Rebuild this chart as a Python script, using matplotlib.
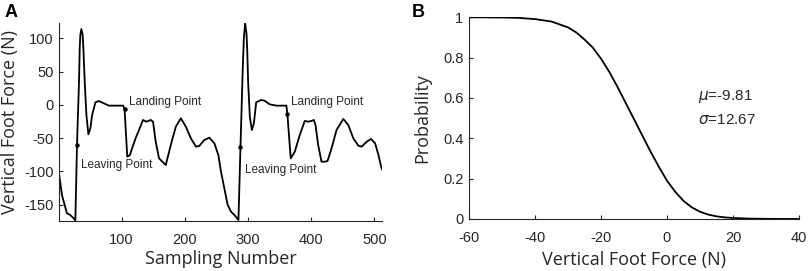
import matplotlib
matplotlib.use("Agg")
import matplotlib.pyplot as plt

plt.rcParams['font.family'] = ['Liberation Sans', 'DejaVu Sans']
plt.rcParams['mathtext.fontset'] = 'dejavusans'
plt.rcParams['axes.unicode_minus'] = False

# ---- Panel A data ----
sample_x = [1, 5.7, 13.6, 18.9, 24.2, 26.9, 29.5, 32.7, 33.8, 34.8, 36.4,
            38.5, 39.6, 41.7, 44.4, 47.5, 50.7, 53.4, 58.7, 64.0, 71.9, 79.9,
            93.1, 102.6, 104.8, 109.0, 113.2, 117.0, 122.3, 127.6, 133.9, 139.2,
            146.1, 149.8, 154.0, 159.3, 164.6, 169.9, 177.9, 185.8, 193.8, 201.7,
            209.7, 217.6, 222.9, 230.9, 238.8, 246.8, 253.1, 257.3, 262.6, 267.9,
            273.2, 278.5, 282.8, 284.9, 288.1, 291.8, 292.9, 293.4, 295.5, 297.6,
            298.7, 300.3, 302.9, 306.1, 309.3, 313.0, 320.9, 326.2, 334.2, 344.8,
            360.7, 362.3, 367.6, 374.0, 381.9, 389.8, 395.1, 400.4, 404.1, 406.8,
            411.0, 416.3, 421.6, 425.8, 432.2, 440.1, 450.7, 458.7, 466.6, 474.6,
            479.9, 487.8, 494.7, 501.1, 506.4, 510.6, 512]
force_y = [-102.9, -135.5, -163.0, -165.5, -170.5, -174.0, -60.3, 34.9, 85, 105, 114,
           105, 85, 34.9, -15.2, -44.3, -35.3, -15.2, 3.8, 5.8, 2.3, -1.2,
           -1.2, -1.2, -6.7, -77.9, -75.4, -64.3, -50, -37.8, -22.7, -25.3,
           -22.7, -25.3, -55.3, -80.4, -85.4, -90.4, -60.3, -32.8, -20.2, -32.8,
           -50.3, -62.8, -61.8, -52.8, -49.3, -57.8, -75.4, -100.4, -125.5, -150.5,
           -160.5, -165.5, -170.5, -173.0, -63.8, 57.4, 85, 100, 122.5, 107.5,
           85, 32.4, -17.7, -37.8, -27.8, 3.8, 7.3, 6.3, 0.8, -1.2,
           -1.2, -13.7, -80.4, -70.3, -45.3, -24.2, -25.3, -24.2, -22.7, -30.3,
           -60.3, -85.4, -85.4, -84.4, -65.3, -37.8, -21.2, -30.3, -50.3, -61.3,
           -62.8, -55.3, -51.3, -57.8, -75.4, -92.9, -97]

leaving_x = [29.5, 288.1]
leaving_y = [-60.3, -63.8]
landing_x = [104.8, 362.3]
landing_y = [-6.7, -13.7]

a_xticks = [100, 200, 300, 400, 500]
a_yticks = [-150, -100, -50, 0, 50, 100]

# ---- Panel B data ----
force_b = [-60, -50, -45, -40, -35, -30, -27.5, -25, -22.5, -20,
           -17.5, -15, -12.5, -10, -7.5, -5, -2.5, 0, 2.5, 5,
           7.5, 10, 12.5, 15, 17.5, 20, 25, 30, 35, 40]
prob_b = [1.0, 0.999, 0.997, 0.991, 0.979, 0.950, 0.925, 0.890, 0.850, 0.795,
          0.730, 0.655, 0.575, 0.495, 0.415, 0.335, 0.260, 0.190, 0.135, 0.090,
          0.058, 0.036, 0.022, 0.013, 0.008, 0.005, 0.002, 0.0007, 0.0002, 0.0001]
b_xticks = [-60, -40, -20, 0, 20, 40]
b_yticks = [0, 0.2, 0.4, 0.6, 0.8, 1]
b_yticklabels = ['0', '0.2', '0.4', '0.6', '0.8', '1']

TXT = '#262626'
LABEL_FONT = ['Open Sans', 'DejaVu Sans']

fig = plt.figure(figsize=(8.09, 2.71), dpi=100)
axA = fig.add_axes([0.0729, 0.1845, 0.3993, 0.7295])
axB = fig.add_axes([0.5797, 0.1919, 0.4079, 0.7443])

for ax in (axA, axB):
    for s in ('top', 'right'):
        ax.spines[s].set_visible(False)
    for s in ('left', 'bottom'):
        ax.spines[s].set_color(TXT)
        ax.spines[s].set_linewidth(0.8)
    ax.tick_params(direction='in', length=3, width=0.8, colors=TXT,
                   labelsize=10.5)
    ax.tick_params(axis='y', pad=4)

axA.tick_params(axis='x', pad=8.5)
axB.tick_params(axis='x', pad=9)

# Panel A
axA.plot(sample_x, force_y, color='black', lw=1.3)
axA.plot(leaving_x, leaving_y, 'o', color='black', ms=2.2)
axA.plot(landing_x, landing_y, 'o', color='black', ms=2.2)
axA.set_xlim(1, 512)
axA.set_ylim(-174.5, 122.5)
axA.set_xticks(a_xticks)
axA.set_yticks(a_yticks)
axA.set_xlabel('Sampling Number', fontsize=13, color=TXT, family=LABEL_FONT)
axA.set_ylabel('Vertical Foot Force (N)', fontsize=13, color=TXT, family=LABEL_FONT)
axA.xaxis.label.set_va('center')
axA.yaxis.label.set_va('center')
axA.xaxis.set_label_coords(0.5, -0.192)
axA.yaxis.set_label_coords(-0.152, 0.5)
for lx in landing_x:
    axA.text(lx + 6.5, 4.5, 'Landing Point', fontsize=8.5, color=TXT, va='center')
for lx, ty in zip(leaving_x, [-91, -98]):
    axA.text(lx + 7, ty, 'Leaving Point', fontsize=8.5, color=TXT, va='center')

# Panel B
axB.plot(force_b, prob_b, color='black', lw=1.3)
axB.set_xlim(-60, 40)
axB.set_ylim(0, 1)
axB.set_xticks(b_xticks)
axB.set_yticks(b_yticks)
axB.set_yticklabels(b_yticklabels)
axB.set_xlabel('Vertical Foot Force (N)', fontsize=13, color=TXT, family=LABEL_FONT)
axB.set_ylabel('Probability', fontsize=13, color=TXT, family=LABEL_FONT)
axB.xaxis.label.set_va('center')
axB.yaxis.label.set_va('center')
axB.xaxis.set_label_coords(0.5, -0.203)
axB.yaxis.set_label_coords(-0.142, 0.5)
axB.text(9.4, 0.605, r'$\mu$=-9.81', fontsize=11, color=TXT, va='center')
axB.text(9.4, 0.49, r'$\sigma$=12.67', fontsize=11, color=TXT, va='center')

fig.text(0.006, 0.985, 'A', fontsize=13, fontweight='bold', va='top', ha='left')
fig.text(0.509, 0.985, 'B', fontsize=13, fontweight='bold', va='top', ha='left')

fig.savefig('out.png', dpi=100)
